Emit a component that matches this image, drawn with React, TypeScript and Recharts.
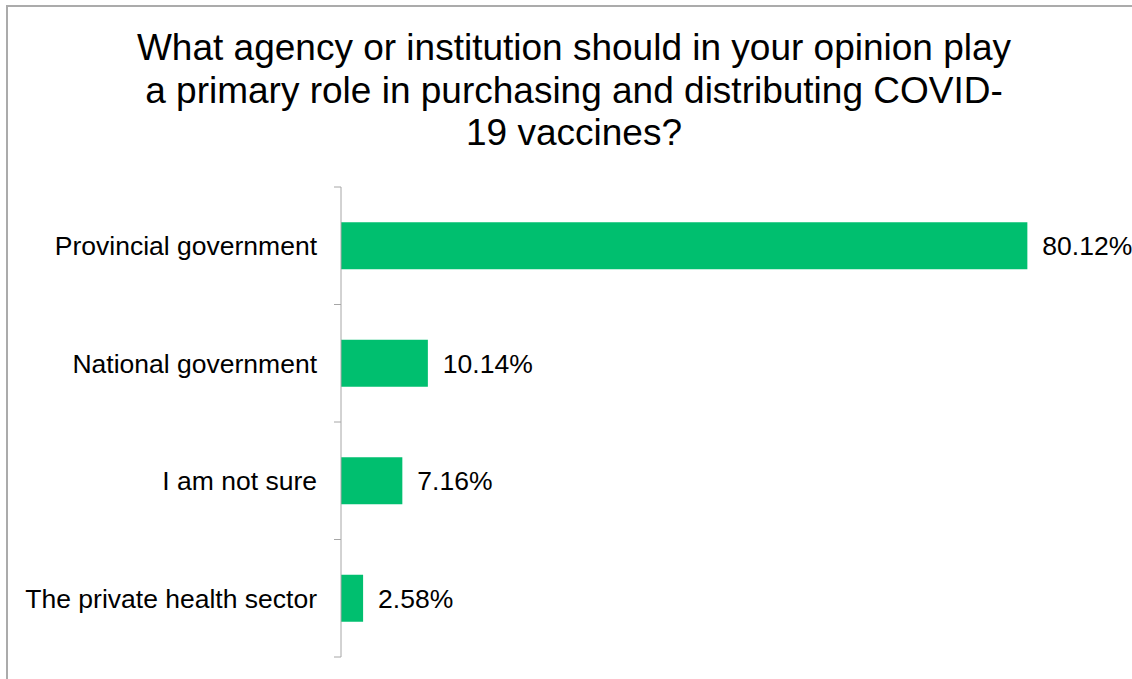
import React from 'react';
import { BarChart, Bar, XAxis, YAxis, LabelList } from 'recharts';

const titleLines = [
  'What agency or institution should in your opinion play',
  'a primary role in purchasing and distributing COVID-',
  '19 vaccines?',
];
const categories = [
  'Provincial government',
  'National government',
  'I am not sure',
  'The private health sector',
];
const shares = [80.12, 10.14, 7.16, 2.58];

const font = '"Liberation Sans", Arial, sans-serif';
const green = '#00bf6f';
const axisGray = '#a6a6a6';
const labelGap = 24;
const markLen = 7;

// category label plus Excel-style tick marks on the band boundaries
const CategoryTick = (props: any) => {
  const { x, y, payload, index, visibleTicksCount } = props;
  const axisX = x + labelGap;
  const half = payload.offset || 0;
  const isLast = index === visibleTicksCount - 1;
  return (
    <g>
      <line x1={axisX - markLen} x2={axisX} y1={y - half} y2={y - half} stroke={axisGray} />
      {isLast && (
        <line x1={axisX - markLen} x2={axisX} y1={y + half} y2={y + half} stroke={axisGray} />
      )}
      <text x={x} y={y} dy="0.355em" textAnchor="end" fill="#000" fontSize={26.5} fontFamily={font}>
        {payload.value}
      </text>
    </g>
  );
};

const App: React.FC = () => {
  const data = categories.map((name, i) => ({ name, value: shares[i] }));

  return (
    <div style={{ position: 'relative', width: 1132, height: 679, overflow: 'hidden', background: '#fff', fontFamily: font }}>
      <style>{'body{margin:0}'}</style>
      {/* chart frame, only top and left edges visible */}
      <div
        style={{
          position: 'absolute', left: 6, top: 5, width: 1200, height: 800,
          borderLeft: '2px solid #ababab', borderTop: '2px solid #ababab',
        }}
      />
      <div
        style={{
          position: 'absolute', left: 0, top: 27, width: 1148, textAlign: 'center',
          fontSize: 37, lineHeight: '42.5px', color: '#000',
        }}
      >
        {titleLines.map((line) => (
          <div key={line} style={{ whiteSpace: 'nowrap' }}>{line}</div>
        ))}
      </div>
      <div style={{ position: 'absolute', left: 0, top: 0 }}>
        <BarChart
          width={1132}
          height={679}
          data={data}
          layout="vertical"
          barCategoryGap="30%"
          margin={{ top: 187, right: 20, bottom: 22, left: 11 }}
        >
          <XAxis type="number" domain={[0, 90]} hide />
          <YAxis
            dataKey="name"
            type="category"
            width={330}
            axisLine={{ stroke: axisGray }}
            tickLine={false}
            tickSize={0}
            tickMargin={labelGap}
            tick={<CategoryTick />}
          />
          <Bar dataKey="value" fill={green} isAnimationActive={false}>
            <LabelList
              dataKey="value"
              position="right"
              offset={15}
              formatter={(v: number) => `${v.toFixed(2)}%`}
              style={{ fill: '#000', fontSize: 26.5, fontFamily: font }}
            />
          </Bar>
        </BarChart>
      </div>
    </div>
  );
};

export default App;
